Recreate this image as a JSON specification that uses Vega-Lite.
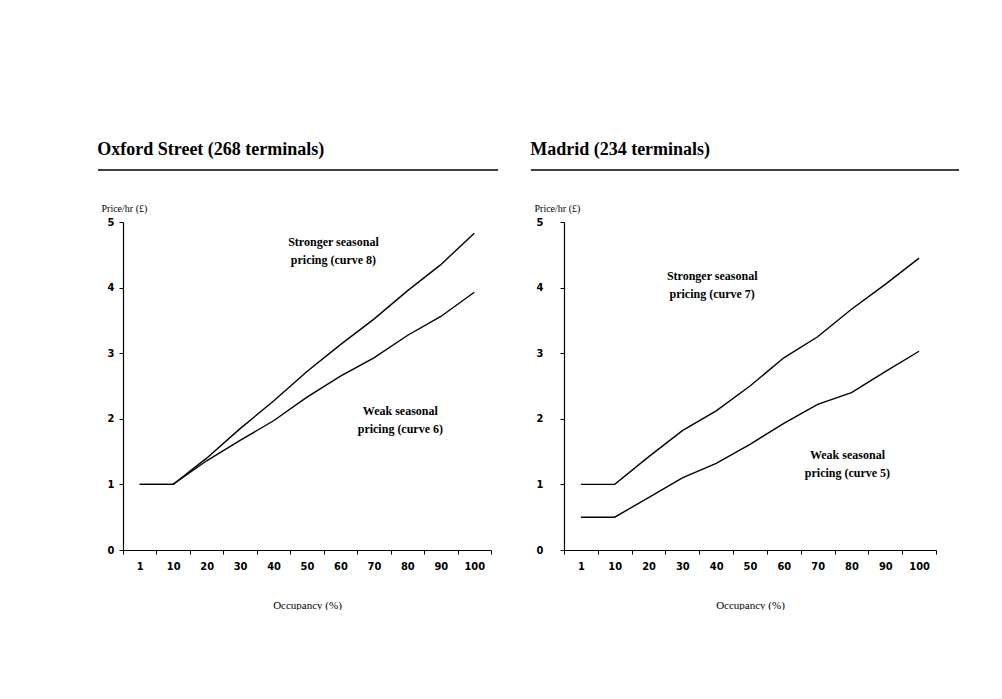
{
  "$schema": "https://vega.github.io/schema/vega-lite/v6.json",
  "padding": {"left": 97, "top": 141, "right": 0, "bottom": 0},
  "background": "white",
  "spacing": 31,
  "config": {
    "view": {"stroke": null},
    "axis": {
      "domainColor": "black",
      "domainWidth": 1.2,
      "tickColor": "black",
      "tickSize": 4,
      "grid": false,
      "labelColor": "black",
      "labelFont": "Liberation Sans Narrow, DejaVu Sans Condensed, sans-serif",
      "labelFontWeight": "bold",
      "labelFontSize": 11,
      "titleColor": "black",
      "titleFont": "Liberation Serif",
      "titleFontWeight": "normal",
      "titleFontSize": 11
    }
  },
  "datasets": {
    "oxford": [
      {"occ": 1, "price": 1.0, "curve": "Stronger (curve 8)"},
      {"occ": 10, "price": 1.0, "curve": "Stronger (curve 8)"},
      {"occ": 20, "price": 1.4, "curve": "Stronger (curve 8)"},
      {"occ": 30, "price": 1.85, "curve": "Stronger (curve 8)"},
      {"occ": 40, "price": 2.27, "curve": "Stronger (curve 8)"},
      {"occ": 50, "price": 2.72, "curve": "Stronger (curve 8)"},
      {"occ": 60, "price": 3.13, "curve": "Stronger (curve 8)"},
      {"occ": 70, "price": 3.52, "curve": "Stronger (curve 8)"},
      {"occ": 80, "price": 3.95, "curve": "Stronger (curve 8)"},
      {"occ": 90, "price": 4.35, "curve": "Stronger (curve 8)"},
      {"occ": 100, "price": 4.83, "curve": "Stronger (curve 8)"},
      {"occ": 1, "price": 1.0, "curve": "Weak (curve 6)"},
      {"occ": 10, "price": 1.0, "curve": "Weak (curve 6)"},
      {"occ": 20, "price": 1.36, "curve": "Weak (curve 6)"},
      {"occ": 30, "price": 1.67, "curve": "Weak (curve 6)"},
      {"occ": 40, "price": 1.97, "curve": "Weak (curve 6)"},
      {"occ": 50, "price": 2.33, "curve": "Weak (curve 6)"},
      {"occ": 60, "price": 2.65, "curve": "Weak (curve 6)"},
      {"occ": 70, "price": 2.93, "curve": "Weak (curve 6)"},
      {"occ": 80, "price": 3.27, "curve": "Weak (curve 6)"},
      {"occ": 90, "price": 3.56, "curve": "Weak (curve 6)"},
      {"occ": 100, "price": 3.93, "curve": "Weak (curve 6)"}
    ],
    "madrid": [
      {"occ": 1, "price": 1.0, "curve": "Stronger (curve 7)"},
      {"occ": 10, "price": 1.0, "curve": "Stronger (curve 7)"},
      {"occ": 20, "price": 1.42, "curve": "Stronger (curve 7)"},
      {"occ": 30, "price": 1.82, "curve": "Stronger (curve 7)"},
      {"occ": 40, "price": 2.12, "curve": "Stronger (curve 7)"},
      {"occ": 50, "price": 2.5, "curve": "Stronger (curve 7)"},
      {"occ": 60, "price": 2.93, "curve": "Stronger (curve 7)"},
      {"occ": 70, "price": 3.25, "curve": "Stronger (curve 7)"},
      {"occ": 80, "price": 3.67, "curve": "Stronger (curve 7)"},
      {"occ": 90, "price": 4.05, "curve": "Stronger (curve 7)"},
      {"occ": 100, "price": 4.45, "curve": "Stronger (curve 7)"},
      {"occ": 1, "price": 0.5, "curve": "Weak (curve 5)"},
      {"occ": 10, "price": 0.5, "curve": "Weak (curve 5)"},
      {"occ": 20, "price": 0.8, "curve": "Weak (curve 5)"},
      {"occ": 30, "price": 1.1, "curve": "Weak (curve 5)"},
      {"occ": 40, "price": 1.32, "curve": "Weak (curve 5)"},
      {"occ": 50, "price": 1.61, "curve": "Weak (curve 5)"},
      {"occ": 60, "price": 1.93, "curve": "Weak (curve 5)"},
      {"occ": 70, "price": 2.22, "curve": "Weak (curve 5)"},
      {"occ": 80, "price": 2.4, "curve": "Weak (curve 5)"},
      {"occ": 90, "price": 2.72, "curve": "Weak (curve 5)"},
      {"occ": 100, "price": 3.03, "curve": "Weak (curve 5)"}
    ]
  },
  "hconcat": [
    {
      "spacing": 32,
      "vconcat": [
        {
          "width": 368,
          "height": 10,
          "title": {"text": "Oxford Street (268 terminals)", "anchor": "start", "font": "Liberation Serif", "fontSize": 18, "fontWeight": "bold", "color": "black", "offset": 1},
          "data": {"values": [{}]},
          "mark": {"type": "rule", "color": "black", "strokeWidth": 1.5, "clip": false},
          "encoding": {
            "x": {"datum": -0.068, "type": "quantitative", "scale": {"domain": [0, 1]}, "axis": null},
            "x2": {"datum": 1.019},
            "y": {"datum": 0, "type": "quantitative", "scale": {"domain": [0, 1]}, "axis": null}
          }
        },
        {
          "width": 368,
          "height": 328,
          "layer": [
            {
              "data": {"name": "oxford"},
              "mark": {"type": "line", "color": "black", "strokeWidth": 1.4},
              "encoding": {
                "x": {"field": "occ", "type": "ordinal", "scale": {"type": "band", "paddingInner": 0, "paddingOuter": 0},
                  "axis": {"title": "Occupancy (%)", "labelAngle": 0, "tickBand": "extent", "labelPadding": 6, "titlePadding": 28}},
                "y": {"field": "price", "type": "quantitative", "scale": {"domain": [0, 5]},
                  "axis": {"values": [0, 1, 2, 3, 4, 5], "format": "d", "title": "Price/hr (£)", "titleAngle": 0, "titleAlign": "left", "titleBaseline": "alphabetic", "titleX": -22, "titleY": -11, "titleFontSize": 10, "labelPadding": 5}},
                "detail": {"field": "curve"}
              }
            },
            {
              "data": {"values": [
                {"occ": 60, "price": 4.7, "label": ["Stronger seasonal", "pricing (curve 8)"]},
                {"occ": 80, "price": 2.12, "label": ["Weak seasonal", "pricing (curve 6)"]}
              ]},
              "mark": {"type": "text", "font": "Liberation Serif", "fontWeight": "bold", "fontSize": 12, "lineHeight": 18, "color": "black", "dx": -7, "baseline": "middle"},
              "encoding": {
                "x": {"field": "occ", "type": "ordinal"},
                "y": {"field": "price", "type": "quantitative"},
                "text": {"field": "label"}
              }
            }
          ]
        }
      ]
    },
    {
      "spacing": 32,
      "vconcat": [
        {
          "width": 372,
          "height": 10,
          "title": {"text": "Madrid (234 terminals)", "anchor": "start", "font": "Liberation Serif", "fontSize": 18, "fontWeight": "bold", "color": "black", "offset": 1},
          "data": {"values": [{}]},
          "mark": {"type": "rule", "color": "black", "strokeWidth": 1.5, "clip": false},
          "encoding": {
            "x": {"datum": -0.089, "type": "quantitative", "scale": {"domain": [0, 1]}, "axis": null},
            "x2": {"datum": 1.062},
            "y": {"datum": 0, "type": "quantitative", "scale": {"domain": [0, 1]}, "axis": null}
          }
        },
        {
          "width": 372,
          "height": 328,
          "layer": [
            {
              "data": {"name": "madrid"},
              "mark": {"type": "line", "color": "black", "strokeWidth": 1.4},
              "encoding": {
                "x": {"field": "occ", "type": "ordinal", "scale": {"type": "band", "paddingInner": 0, "paddingOuter": 0},
                  "axis": {"title": "Occupancy (%)", "labelAngle": 0, "tickBand": "extent", "labelPadding": 6, "titlePadding": 28}},
                "y": {"field": "price", "type": "quantitative", "scale": {"domain": [0, 5]},
                  "axis": {"values": [0, 1, 2, 3, 4, 5], "format": "d", "title": "Price/hr (£)", "titleAngle": 0, "titleAlign": "left", "titleBaseline": "alphabetic", "titleX": -30, "titleY": -11, "titleFontSize": 10, "labelPadding": 17}},
                "detail": {"field": "curve"}
              }
            },
            {
              "data": {"values": [
                {"occ": 40, "price": 4.18, "label": ["Stronger seasonal", "pricing (curve 7)"]},
                {"occ": 80, "price": 1.45, "label": ["Weak seasonal", "pricing (curve 5)"]}
              ]},
              "mark": {"type": "text", "font": "Liberation Serif", "fontWeight": "bold", "fontSize": 12, "lineHeight": 18, "color": "black", "dx": -4, "baseline": "middle"},
              "encoding": {
                "x": {"field": "occ", "type": "ordinal"},
                "y": {"field": "price", "type": "quantitative"},
                "text": {"field": "label"}
              }
            }
          ]
        }
      ]
    }
  ]
}
